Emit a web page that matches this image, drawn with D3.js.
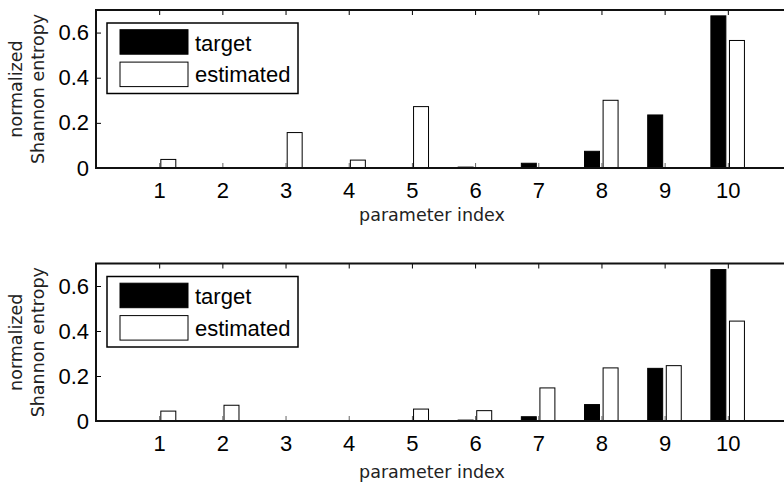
<!DOCTYPE html>
<html>
<head>
<meta charset="utf-8">
<script src="https://cdn.jsdelivr.net/npm/d3@7"></script>
<style>
  body { margin: 0; background: #fff; }
  svg { display: block; }
</style>
</head>
<body>
<svg id="chart"></svg>
<script>
// parameter indices on the x axis
const params = [1, 2, 3, 4, 5, 6, 7, 8, 9, 10];
const seriesNames = ["target", "estimated"];
const yTicks = [0, 0.2, 0.4, 0.6];

// normalized Shannon entropy
const targetTop = [0, 0, 0, 0, 0, 0.004, 0.021, 0.074, 0.235, 0.674];
const estimatedTop = [0.038, 0, 0.157, 0.035, 0.272, 0, 0, 0.300, 0, 0.565];
const targetBottom = [0, 0, 0, 0, 0, 0.004, 0.019, 0.073, 0.234, 0.673];
const estimatedBottom = [0.044, 0.070, 0, 0, 0.053, 0.046, 0.147, 0.236, 0.246, 0.444];

const width = 784, height = 482;
const svg = d3.select("#chart").attr("width", width).attr("height", height);

const tickFont = "'Liberation Sans', Arial, sans-serif";
const labelFont = "'DejaVu Sans', sans-serif";

// shared x scale: domain 0..11, right edge falls off the page
const scaleX = d3.scaleLinear().domain([0, 11]).range([96, 791]);

drawPanel(10, 168, targetTop, estimatedTop, 53);
drawPanel(263.5, 421, targetBottom, estimatedBottom, 57);

function drawPanel(top, bottom, target, estimated, xlabelGap) {
    const scaleY = d3.scaleLinear().domain([0, 0.7]).range([bottom, top]);
    const g = svg.append("g");

    // bars: black for target, white for estimated
    const offsets = [-0.268, 0.026];
    const barW = scaleX(0.237) - scaleX(0);
    [target, estimated].forEach((vals, s) => {
        g.selectAll(".bar" + s)
            .data(params.map((p, i) => ({p: p, v: vals[i]})))
            .enter()
            .append("rect")
            .attr("x", d => scaleX(d.p + offsets[s]))
            .attr("width", barW)
            .attr("y", d => scaleY(d.v))
            .attr("height", d => scaleY(0) - scaleY(d.v))
            .attr("fill", s === 0 ? "#000" : "#fff")
            .attr("stroke", "#000")
            .attr("stroke-width", 1);
    });

    // ticks pointing inward (bottom, top, left)
    const axisB = d3.axisBottom(scaleX).tickValues(params).tickSizeInner(-5).tickSizeOuter(0).tickPadding(14);
    const gb = g.append("g").attr("transform", `translate(0,${bottom})`).call(axisB);
    gb.select(".domain").remove();
    gb.selectAll("line").attr("stroke", "#666");
    gb.selectAll("text").attr("font-family", tickFont).attr("font-size", 22).attr("fill", "#000");

    const axisT = d3.axisTop(scaleX).tickValues(params).tickSizeInner(-5).tickSizeOuter(0).tickFormat("");
    const gt = g.append("g").attr("transform", `translate(0,${top})`).call(axisT);
    gt.select(".domain").remove();

    const axisL = d3.axisLeft(scaleY).tickValues(yTicks).tickSizeInner(-5).tickSizeOuter(0).tickPadding(7)
        .tickFormat(d => d === 0 ? "0" : d3.format(".1f")(d));
    const gl = g.append("g").attr("transform", `translate(${scaleX(0)},0)`).call(axisL);
    gl.select(".domain").remove();
    gl.selectAll("text").attr("font-family", tickFont).attr("font-size", 22).attr("fill", "#000");

    // frame lines
    g.append("path")
        .attr("d", `M${scaleX(11)},${top}H${scaleX(0)}V${bottom}H${scaleX(11)}`)
        .attr("fill", "none")
        .attr("stroke", "#111")
        .attr("stroke-width", 2);

    // axis labels
    g.append("text")
        .attr("x", 432)
        .attr("y", bottom + xlabelGap)
        .attr("text-anchor", "middle")
        .attr("font-family", labelFont)
        .attr("font-size", 17.5)
        .attr("fill", "#222")
        .text("parameter index");

    const cy = (top + bottom) / 2;
    g.append("text")
        .attr("transform", `translate(22,${cy}) rotate(-90)`)
        .attr("text-anchor", "middle")
        .attr("font-family", labelFont)
        .attr("font-size", 17.5)
        .attr("fill", "#222")
        .text("normalized");
    g.append("text")
        .attr("transform", `translate(44,${cy}) rotate(-90)`)
        .attr("text-anchor", "middle")
        .attr("font-family", labelFont)
        .attr("font-size", 17.5)
        .attr("fill", "#222")
        .text("Shannon entropy");

    // legend
    const lg = g.append("g").attr("transform", `translate(107,${top + 13})`);
    lg.append("rect")
        .attr("width", 191).attr("height", 70.5)
        .attr("fill", "#fff").attr("stroke", "#000").attr("stroke-width", 1.5);
    seriesNames.forEach((name, s) => {
        lg.append("rect")
            .attr("x", 13).attr("y", 6.7 + s * 32.4)
            .attr("width", 68).attr("height", 24.5)
            .attr("fill", s === 0 ? "#000" : "#fff")
            .attr("stroke", "#000").attr("stroke-width", 1);
        lg.append("text")
            .attr("x", 88).attr("y", 27.5 + s * 31.5)
            .attr("font-family", tickFont).attr("font-size", 22)
            .attr("fill", "#000")
            .text(name);
    });
}
</script>
</body>
</html>
